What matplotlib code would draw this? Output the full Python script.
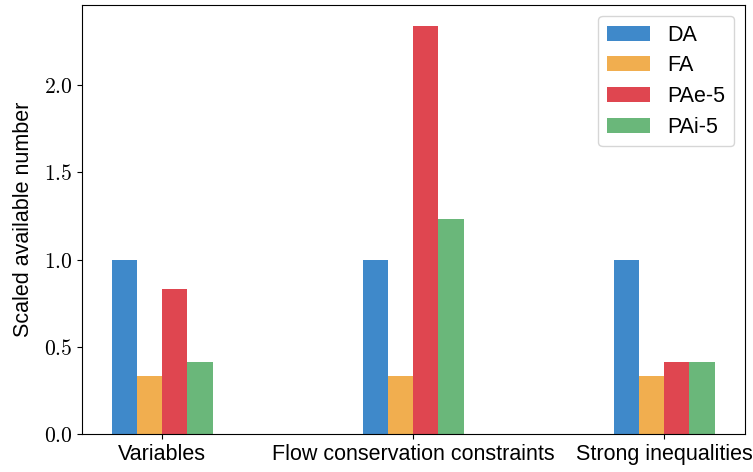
import matplotlib
matplotlib.use('Agg')
import matplotlib.pyplot as plt
import numpy as np

# data
groups = ['Variables', 'Flow conservation constraints', 'Strong inequalities']
series = ['DA', 'FA', 'PAe-5', 'PAi-5']
da = [1.0, 1.0, 1.0]
fa = [0.333, 0.333, 0.333]
pae5 = [0.83, 2.34, 0.41]
pai5 = [0.41, 1.235, 0.41]
yticks = [0.0, 0.5, 1.0, 1.5, 2.0]

colors = ['#3f89ca', '#f1ae4f', '#df4650', '#6ab77a']

plt.rcParams['font.family'] = ['Liberation Sans', 'DejaVu Sans']
plt.rcParams['mathtext.fontset'] = 'cm'

fig = plt.figure(figsize=(7.53, 4.72), dpi=100)
ax = fig.add_axes([0.109, 0.0805, 0.880, 0.908])

x = np.arange(len(groups))
width = 0.1
for k, (name, vals) in enumerate(zip(series, [da, fa, pae5, pai5])):
    ax.bar(x + (k - 1.5) * width, vals, width, color=colors[k], label=name)

ax.set_xticks(x)
ax.set_xticklabels(groups, fontsize=15.5)
ax.set_yticks(yticks)
ax.set_yticklabels([f'${v:.1f}$' for v in yticks], fontsize=15.5)
ax.set_ylabel('Scaled available number', fontsize=15.5, labelpad=7)

ax.legend(loc='upper right', fontsize=15.5, labelspacing=0.45)

fig.savefig('out.png', dpi=100)
